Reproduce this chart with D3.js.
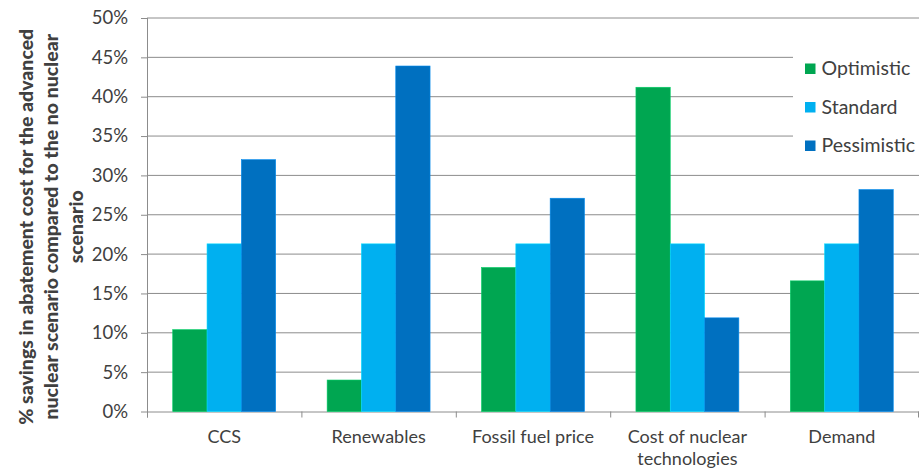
<!DOCTYPE html>
<html>
<head>
<meta charset="utf-8">
<script src="https://cdn.jsdelivr.net/npm/d3@7"></script>
<style>
  body { margin: 0; background: #fff; }
  text { font-family: Lato, "Noto Sans", sans-serif; fill: #404040; }
</style>
</head>
<body>
<div id="chart_div"></div>
<script>
// data
var categories = ["CCS", "Renewables", "Fossil fuel price", "Cost of nuclear technologies", "Demand"];
var seriesNames = ["Optimistic", "Standard", "Pessimistic"];
var optimistic = [0.104, 0.040, 0.183, 0.412, 0.166];
var standard = [0.213, 0.213, 0.213, 0.213, 0.213];
var pessimistic = [0.320, 0.439, 0.271, 0.119, 0.282];
var yTicks = [0, 0.05, 0.1, 0.15, 0.2, 0.25, 0.3, 0.35, 0.4, 0.45, 0.5];
var colors = ["#00A651", "#00B0F0", "#0070C0"];
var titleLines = ["% savings in abatement cost for the advanced",
                  "nuclear scenario compared to the no nuclear",
                  "scenario"];

var seriesValues = [optimistic, standard, pessimistic];

var all_width = 920, all_height = 476;
var margin = {top: 18, right: 1, bottom: 64.5, left: 147},
    width = all_width - margin.left - margin.right,
    height = all_height - margin.top - margin.bottom;

var svg = d3.select("#chart_div")
  .append("svg")
    .attr("width", all_width)
    .attr("height", all_height)
  .append("g")
    .attr("transform", "translate(" + margin.left + "," + margin.top + ")");

var x = d3.scaleBand().domain(categories).range([0, width]).padding(0);
var xs = d3.scaleBand().domain(seriesNames).range([0, x.bandwidth()])
  .paddingInner(0).paddingOuter(0.75);
var y = d3.scaleLinear().domain([0, 0.5]).range([height, 0]);

// gridlines
svg.append("g")
  .selectAll("line")
  .data(yTicks.filter(function(d) { return d > 0; }))
  .enter().append("line")
    .attr("x1", 0).attr("x2", width)
    .attr("y1", function(d) { return y(d); })
    .attr("y2", function(d) { return y(d); })
    .attr("stroke", "#8c8c8c")
    .attr("stroke-width", 1);

// y axis
var yAxis = svg.append("g")
  .call(d3.axisLeft(y).tickValues(yTicks).tickFormat(d3.format(".0%")).tickSize(6).tickPadding(13));
yAxis.select(".domain").attr("stroke", "#8c8c8c").attr("d", "M0.5,0V" + (height + 6));
yAxis.selectAll(".tick line").attr("stroke", "#8c8c8c");
yAxis.selectAll(".tick text")
  .style("font-size", "18.5px")
  .style("font-family", "Lato, 'Noto Sans', sans-serif")
  .attr("fill", "#404040");

// x axis
var xAxis = svg.append("g")
  .attr("transform", "translate(0," + height + ")");
xAxis.append("line")
  .attr("x1", 0).attr("x2", width)
  .attr("y1", 0.5).attr("y2", 0.5)
  .attr("stroke", "#8c8c8c");
xAxis.selectAll(".xtick")
  .data(categories.concat(["end"]))
  .enter().append("line")
    .attr("x1", function(d, i) { return i < categories.length ? x(d) + 0.5 : width - 0.5; })
    .attr("x2", function(d, i) { return i < categories.length ? x(d) + 0.5 : width - 0.5; })
    .attr("y1", 0).attr("y2", 6)
    .attr("stroke", "#8c8c8c");

var labelLines = {
  "Cost of nuclear technologies": ["Cost of nuclear", "technologies"]
};
xAxis.selectAll(".xlabel")
  .data(categories)
  .enter().append("text")
    .attr("text-anchor", "middle")
    .attr("x", function(d) { return x(d) + x.bandwidth() / 2; })
    .attr("y", 31)
    .style("font-size", "18px")
    .each(function(d) {
      var lines = labelLines[d] || [d];
      d3.select(this).selectAll("tspan")
        .data(lines)
        .enter().append("tspan")
          .attr("x", x(d) + x.bandwidth() / 2)
          .attr("dy", function(l, i) { return i === 0 ? 0 : 22; })
          .text(function(l) { return l; });
    });

// bars
seriesNames.forEach(function(s, si) {
  svg.append("g")
    .selectAll("rect")
    .data(seriesValues[si])
    .enter().append("rect")
      .attr("x", function(d, i) { return x(categories[i]) + xs(s); })
      .attr("width", xs.bandwidth())
      .attr("y", function(d) { return y(d); })
      .attr("height", function(d) { return y(0) - y(d); })
      .attr("fill", colors[si])
      .attr("stroke", d3.color(colors[si]).brighter(0.6))
      .attr("stroke-width", 0.6);
});

// legend
var legend = svg.append("g")
  .attr("transform", "translate(" + (width - 126) + ",27)");
legend.append("rect")
  .attr("x", 0).attr("y", 0)
  .attr("width", 127).attr("height", 120)
  .attr("fill", "#fff");
seriesNames.forEach(function(s, i) {
  var row = legend.append("g").attr("transform", "translate(0," + (23.5 + i * 38.5) + ")");
  row.append("rect")
    .attr("x", 12).attr("y", -5)
    .attr("width", 10.5).attr("height", 10.5)
    .attr("fill", colors[i]);
  row.append("text")
    .attr("x", 28.5).attr("y", 0)
    .attr("dy", "0.35em")
    .style("font-size", "19.5px")
    .text(s);
});

// y axis title
var title = svg.append("text")
  .attr("transform", "translate(" + (-margin.left + 33) + "," + (height / 2 + 12) + ") rotate(-90)")
  .attr("text-anchor", "middle")
  .style("font-weight", "900")
  .style("font-size", "19.5px")
  .attr("fill", "#262626");
title.selectAll("tspan")
  .data(titleLines)
  .enter().append("tspan")
    .attr("x", 0)
    .attr("dy", function(d, i) { return i === 0 ? 0 : 25; })
    .text(function(d) { return d; });
</script>
</body>
</html>
